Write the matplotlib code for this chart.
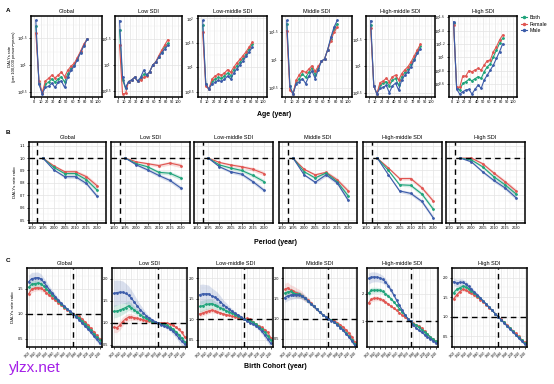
import numpy as np
import matplotlib
matplotlib.use('Agg')
import matplotlib.pyplot as plt
from matplotlib.lines import Line2D
from matplotlib.ticker import FixedLocator, NullFormatter

plt.rcParams['font.family'] = ['Liberation Sans', 'DejaVu Sans']

regions = ['Global', 'Low SDI', 'Low-middle SDI', 'Middle SDI', 'High-middle SDI', 'High SDI']
sexes = ['Both', 'Female', 'Male']
colors = {'Both': '#1fa37a', 'Female': '#e05551', 'Male': '#3b5ba9'}

# ---- A: age effect, log10 of DALYs rate per 100,000 ----
ages = [2.5, 7.5, 12.5, 17.5, 22.5, 27.5, 32.5, 37.5, 42.5, 47.5, 52.5, 57.5, 62.5, 67.5, 72.5, 77.5, 82.5]
a_both = {
    'Global':          [1.73, 0.67, 0.47, 0.64, 0.68, 0.74, 0.68, 0.74, 0.78, 0.68, 0.84, 0.94, 1.00, 1.12, 1.24, 1.37, 1.48],
    'Low SDI':         [1.68, 0.71, 0.55, 0.68, 0.71, 0.76, 0.69, 0.73, 0.82, 0.80, 0.87, 1.00, 1.06, 1.16, 1.26, 1.36, 1.42],
    'Low-middle SDI':  [1.86, 0.66, 0.55, 0.71, 0.76, 0.79, 0.77, 0.82, 0.88, 0.83, 0.95, 1.03, 1.10, 1.18, 1.27, 1.38, 1.47],
    'Middle SDI':      [1.64, 0.52, 0.39, 0.60, 0.66, 0.74, 0.68, 0.77, 0.85, 0.73, 0.85, 0.97, 1.01, 1.18, 1.37, 1.54, 1.64],
    'High-middle SDI': [1.77, 0.63, 0.48, 0.64, 0.68, 0.71, 0.63, 0.73, 0.77, 0.64, 0.80, 0.88, 0.94, 1.04, 1.14, 1.27, 1.38],
    'High SDI':        [1.52, 0.535, 0.51, 0.61, 0.635, 0.67, 0.65, 0.68, 0.71, 0.685, 0.785, 0.86, 0.90, 1.01, 1.11, 1.21, 1.285],
}
a_female = {
    'Global':          [1.60, 0.70, 0.48, 0.70, 0.75, 0.81, 0.76, 0.81, 0.87, 0.78, 0.90, 0.98, 1.03, 1.14, 1.26, 1.39, 1.48],
    'Low SDI':         [1.39, 0.44, 0.45, 0.68, 0.71, 0.76, 0.69, 0.71, 0.76, 0.79, 0.87, 1.00, 1.06, 1.18, 1.29, 1.39, 1.49],
    'Low-middle SDI':  [1.72, 0.61, 0.55, 0.76, 0.82, 0.86, 0.84, 0.88, 0.95, 0.90, 1.00, 1.09, 1.16, 1.24, 1.32, 1.42, 1.51],
    'Middle SDI':      [1.52, 0.45, 0.39, 0.63, 0.73, 0.80, 0.77, 0.83, 0.89, 0.79, 0.88, 0.97, 1.01, 1.18, 1.34, 1.49, 1.58],
    'High-middle SDI': [1.71, 0.63, 0.48, 0.69, 0.72, 0.77, 0.71, 0.80, 0.83, 0.74, 0.86, 0.93, 0.99, 1.08, 1.19, 1.30, 1.41],
    'High SDI':        [1.485, 0.55, 0.55, 0.72, 0.72, 0.80, 0.785, 0.81, 0.835, 0.81, 0.885, 0.95, 0.96, 1.085, 1.16, 1.26, 1.335],
}
a_male = {
    'Global':          [1.84, 0.64, 0.46, 0.58, 0.60, 0.66, 0.58, 0.68, 0.70, 0.58, 0.78, 0.90, 0.98, 1.10, 1.23, 1.36, 1.48],
    'Low SDI':         [1.86, 0.77, 0.56, 0.68, 0.71, 0.76, 0.69, 0.76, 0.90, 0.81, 0.87, 1.00, 1.05, 1.15, 1.24, 1.31, 1.38],
    'Low-middle SDI':  [1.96, 0.66, 0.55, 0.66, 0.69, 0.73, 0.71, 0.75, 0.82, 0.76, 0.88, 0.97, 1.05, 1.13, 1.23, 1.32, 1.41],
    'Middle SDI':      [1.70, 0.52, 0.38, 0.57, 0.60, 0.66, 0.57, 0.70, 0.80, 0.66, 0.82, 0.97, 1.01, 1.18, 1.40, 1.58, 1.70],
    'High-middle SDI': [1.85, 0.63, 0.48, 0.58, 0.60, 0.64, 0.50, 0.63, 0.68, 0.55, 0.74, 0.83, 0.89, 0.99, 1.11, 1.24, 1.33],
    'High SDI':        [1.535, 0.52, 0.45, 0.485, 0.51, 0.52, 0.45, 0.52, 0.585, 0.535, 0.66, 0.735, 0.81, 0.885, 0.985, 1.085, 1.20],
}
a_yticks = {
    'Global': [0.5, 1, 1.5], 'Low SDI': [0.5, 1, 1.5], 'Low-middle SDI': [0.5, 1, 1.5, 2],
    'Middle SDI': [0.5, 1, 1.5], 'High-middle SDI': [0.5, 1, 1.5],
    'High SDI': [0.4, 0.6, 0.8, 1, 1.2, 1.4, 1.6],
}
a_ylim = {
    'Global': (0.40, 1.92), 'Low SDI': (0.38, 1.95), 'Low-middle SDI': (0.39, 2.05),
    'Middle SDI': (0.33, 1.78), 'High-middle SDI': (0.42, 1.94), 'High SDI': (0.405, 1.62),
}

# ---- B: period effect, rate ratio ----
periods = [1995, 2000, 2005, 2010, 2015, 2020]
b_both = {
    'Global':          [1, 0.925, 0.875, 0.875, 0.825, 0.74],
    'Low SDI':         [1, 0.955, 0.93, 0.885, 0.878, 0.838],
    'Low-middle SDI':  [1, 0.945, 0.92, 0.90, 0.86, 0.81],
    'Middle SDI':      [1, 0.89, 0.84, 0.88, 0.81, 0.695],
    'High-middle SDI': [1, 0.90, 0.785, 0.78, 0.71, 0.59],
    'High SDI':        [1, 0.985, 0.93, 0.85, 0.785, 0.71],
}
b_female = {
    'Global':          [1, 0.938, 0.89, 0.89, 0.85, 0.775],
    'Low SDI':         [1, 0.97, 0.955, 0.94, 0.96, 0.94],
    'Low-middle SDI':  [1, 0.965, 0.945, 0.93, 0.91, 0.875],
    'Middle SDI':      [1, 0.91, 0.865, 0.885, 0.825, 0.735],
    'High-middle SDI': [1, 0.92, 0.835, 0.835, 0.76, 0.655],
    'High SDI':        [1, 1.0, 0.955, 0.88, 0.81, 0.735],
}
b_male = {
    'Global':          [1, 0.905, 0.85, 0.85, 0.795, 0.69],
    'Low SDI':         [1, 0.945, 0.905, 0.86, 0.82, 0.757],
    'Low-middle SDI':  [1, 0.93, 0.89, 0.87, 0.81, 0.74],
    'Middle SDI':      [1, 0.865, 0.805, 0.865, 0.80, 0.66],
    'High-middle SDI': [1, 0.865, 0.735, 0.715, 0.65, 0.52],
    'High SDI':        [1, 0.97, 0.89, 0.82, 0.76, 0.68],
}
b_halfwidth = [0, 0.008, 0.012, 0.014, 0.016, 0.018]

# ---- C: cohort effect, rate ratio ----
cohorts = list(range(1900, 2021, 5))
ref_cohort = 1975
c_both = {
    'Global':          [1.53, 1.59, 1.60, 1.61, 1.60, 1.55, 1.49, 1.43, 1.37, 1.31, 1.25, 1.19, 1.14, 1.09, 1.04, 1.00, 0.96, 0.92, 0.86, 0.80, 0.74, 0.67, 0.60, 0.53, 0.47],
    'Low SDI':         [1.26, 1.27, 1.29, 1.32, 1.35, 1.39, 1.35, 1.29, 1.24, 1.19, 1.14, 1.10, 1.06, 1.03, 1.01, 1.00, 0.98, 0.97, 0.94, 0.90, 0.86, 0.80, 0.73, 0.65, 0.57],
    'Low-middle SDI':  [1.31, 1.33, 1.36, 1.37, 1.38, 1.35, 1.31, 1.28, 1.24, 1.20, 1.17, 1.14, 1.11, 1.07, 1.04, 1.00, 0.98, 0.96, 0.92, 0.88, 0.82, 0.75, 0.68, 0.60, 0.50],
    'Middle SDI':      [1.63, 1.66, 1.67, 1.63, 1.61, 1.60, 1.56, 1.50, 1.44, 1.37, 1.30, 1.23, 1.16, 1.10, 1.05, 1.00, 0.96, 0.92, 0.86, 0.80, 0.73, 0.65, 0.57, 0.48, 0.38],
    'High-middle SDI': [2.03, 2.12, 2.13, 2.13, 2.12, 2.08, 2.00, 1.91, 1.82, 1.70, 1.58, 1.46, 1.34, 1.22, 1.10, 1.00, 0.92, 0.85, 0.78, 0.70, 0.62, 0.53, 0.44, 0.35, 0.27],
    'High SDI':        [1.62, 1.70, 1.74, 1.78, 1.76, 1.72, 1.66, 1.60, 1.54, 1.47, 1.40, 1.32, 1.24, 1.16, 1.08, 1.00, 0.92, 0.85, 0.77, 0.70, 0.62, 0.54, 0.47, 0.39, 0.32],
}
c_female = {
    'Global':          [1.40, 1.49, 1.51, 1.52, 1.51, 1.47, 1.42, 1.37, 1.32, 1.27, 1.22, 1.17, 1.12, 1.08, 1.04, 1.00, 0.97, 0.95, 0.90, 0.84, 0.78, 0.71, 0.64, 0.57, 0.50],
    'Low SDI':         [0.90, 0.89, 0.94, 1.03, 1.09, 1.13, 1.13, 1.12, 1.10, 1.08, 1.07, 1.05, 1.04, 1.02, 1.01, 1.00, 1.00, 1.00, 0.99, 0.98, 0.95, 0.90, 0.85, 0.79, 0.68],
    'Low-middle SDI':  [1.13, 1.15, 1.18, 1.20, 1.22, 1.20, 1.18, 1.15, 1.13, 1.11, 1.09, 1.07, 1.06, 1.04, 1.03, 1.00, 1.02, 1.00, 0.94, 0.88, 0.84, 0.80, 0.74, 0.68, 0.55],
    'Middle SDI':      [1.72, 1.76, 1.70, 1.68, 1.64, 1.62, 1.57, 1.50, 1.45, 1.38, 1.30, 1.23, 1.16, 1.10, 1.05, 1.00, 0.97, 0.95, 0.90, 0.85, 0.79, 0.72, 0.64, 0.55, 0.42],
    'High-middle SDI': [1.67, 1.80, 1.83, 1.83, 1.82, 1.76, 1.70, 1.62, 1.55, 1.47, 1.40, 1.31, 1.22, 1.14, 1.07, 1.00, 0.93, 0.87, 0.83, 0.75, 0.64, 0.53, 0.44, 0.35, 0.29],
    'High SDI':        [1.46, 1.56, 1.64, 1.70, 1.68, 1.64, 1.60, 1.55, 1.50, 1.44, 1.38, 1.31, 1.23, 1.16, 1.08, 1.00, 0.93, 0.86, 0.79, 0.72, 0.64, 0.57, 0.49, 0.41, 0.34],
}
c_male = {
    'Global':          [1.64, 1.70, 1.71, 1.72, 1.70, 1.63, 1.56, 1.48, 1.41, 1.34, 1.27, 1.21, 1.15, 1.10, 1.05, 1.00, 0.94, 0.88, 0.82, 0.76, 0.70, 0.63, 0.56, 0.49, 0.42],
    'Low SDI':         [1.67, 1.69, 1.70, 1.70, 1.67, 1.63, 1.56, 1.47, 1.38, 1.30, 1.23, 1.16, 1.11, 1.07, 1.03, 1.00, 0.96, 0.93, 0.90, 0.87, 0.81, 0.74, 0.66, 0.58, 0.52],
    'Low-middle SDI':  [1.60, 1.62, 1.62, 1.62, 1.57, 1.54, 1.50, 1.43, 1.35, 1.30, 1.24, 1.19, 1.14, 1.10, 1.06, 1.00, 0.95, 0.91, 0.88, 0.84, 0.78, 0.70, 0.61, 0.51, 0.41],
    'Middle SDI':      [1.52, 1.56, 1.58, 1.59, 1.59, 1.58, 1.55, 1.50, 1.44, 1.37, 1.30, 1.23, 1.16, 1.10, 1.05, 1.00, 0.95, 0.91, 0.85, 0.78, 0.71, 0.63, 0.55, 0.45, 0.34],
    'High-middle SDI': [2.55, 2.60, 2.61, 2.60, 2.57, 2.52, 2.43, 2.29, 2.13, 1.95, 1.76, 1.58, 1.40, 1.24, 1.10, 1.00, 0.87, 0.75, 0.67, 0.60, 0.52, 0.44, 0.37, 0.30, 0.22],
    'High SDI':        [1.90, 1.86, 1.88, 1.88, 1.84, 1.78, 1.70, 1.63, 1.56, 1.48, 1.40, 1.32, 1.24, 1.16, 1.08, 1.00, 0.92, 0.84, 0.76, 0.68, 0.61, 0.53, 0.45, 0.37, 0.30],
}
# ribbon half-width shape along cohorts, and its size at the oldest cohort per region (Both, Female, Male)
c_band_shape = [1.0, 0.95, 0.9, 0.85, 0.78, 0.7, 0.62, 0.54, 0.46, 0.38, 0.3, 0.23, 0.16, 0.1, 0.05, 0.0,
                0.05, 0.1, 0.14, 0.18, 0.22, 0.26, 0.3, 0.34, 0.38]
c_band_size = {
    'Global': (0.08, 0.07, 0.13), 'Low SDI': (0.15, 0.12, 0.30), 'Low-middle SDI': (0.14, 0.08, 0.25),
    'Middle SDI': (0.10, 0.15, 0.12), 'High-middle SDI': (0.12, 0.10, 0.20), 'High SDI': (0.07, 0.06, 0.10),
}
c_yticks = {
    'Global': [0.5, 1.0, 1.5], 'Low SDI': [0.5, 1.0, 1.5, 2.0], 'Low-middle SDI': [0.5, 1.0, 1.5, 2.0],
    'Middle SDI': [0.5, 1.0, 1.5, 2.0], 'High-middle SDI': [1, 2], 'High SDI': [0.5, 1.0, 1.5, 2.0],
}
c_ylim = {
    'Global': (0.34, 1.91), 'Low SDI': (0.45, 2.03), 'Low-middle SDI': (0.32, 2.05),
    'Middle SDI': (0.30, 2.02), 'High-middle SDI': (0.07, 2.93), 'High SDI': (0.22, 2.14),
}

W, H = 554, 384
fig = plt.figure(figsize=(W / 100, H / 100), dpi=100)


def px_axes(l, r, t, b):
    return fig.add_axes([l / W, 1 - b / H, (r - l) / W, (b - t) / H])


def style(ax, title):
    ax.set_facecolor('white')
    for s in ax.spines.values():
        s.set_linewidth(1.1)
        s.set_color('black')
    ax.grid(which='major', color='#e3e3e3', lw=0.5)
    ax.grid(which='minor', color='#efefef', lw=0.3)
    ax.set_axisbelow(True)
    ax.tick_params(which='major', length=1.5, width=0.5, labelsize=2.8, pad=1)
    ax.tick_params(which='minor', length=0)
    ax.set_title(title, fontsize=4, pad=2)


pt = dict(marker='o', ms=1.0, lw=0.8)
sex_data_a = {'Both': a_both, 'Female': a_female, 'Male': a_male}
sex_data_b = {'Both': b_both, 'Female': b_female, 'Male': b_male}
sex_data_c = {'Both': c_both, 'Female': c_female, 'Male': c_male}

# Row A
a_pos = [(31, 102), (115, 182), (198, 267), (282, 352), (366, 435), (449, 517)]
for (l, r), reg in zip(a_pos, regions):
    ax = px_axes(l, r, 16, 97)
    style(ax, reg)
    for sex in ['Both', 'Female', 'Male']:
        ax.plot(ages, 10 ** np.array(sex_data_a[sex][reg]), color=colors[sex], **pt)
    ax.set_yscale('log')
    lo, hi = a_ylim[reg]
    ax.set_ylim(10 ** lo, 10 ** hi)
    t = np.array(a_yticks[reg], dtype=float)
    ax.yaxis.set_major_locator(FixedLocator(10 ** t))
    ax.set_yticklabels([r'$10^{%g}$' % v for v in t])
    step = t[1] - t[0]
    ax.yaxis.set_minor_locator(FixedLocator(10 ** np.arange(t[0] - step / 2, hi, step)))
    ax.yaxis.set_minor_formatter(NullFormatter())
    ax.set_xlim(-5, 106)
    ax.set_xticks(range(0, 101, 10))
    ax.set_xticks(range(5, 101, 10), minor=True)
    if reg == 'Global':
        ax.set_ylabel('DALYs rate\n(per 100,000 person\u2212years)', fontsize=3.0, linespacing=1.0)
        ax.yaxis.set_label_coords(-0.21, 0.5)

# Row B
b_pos = [(29, 106), (111, 190), (194, 273), (279, 357), (363, 442), (446, 525)]
for (l, r), reg in zip(b_pos, regions):
    ax = px_axes(l, r, 142, 223)
    style(ax, reg)
    for sex in ['Female', 'Both', 'Male']:
        v = np.array(sex_data_b[sex][reg])
        hw = np.array(b_halfwidth)
        ax.fill_between(periods, v - hw, v + hw, color=colors[sex], alpha=0.2, lw=0)
        ax.plot(periods, v, color=colors[sex], **pt)
    ax.axhline(1.0, color='black', ls=(0, (4, 3)), lw=1.0)
    ax.axvline(1992.5, color='black', ls=(0, (4, 3)), lw=1.0)
    ax.set_xlim(1988.6, 2024)
    ax.set_ylim(0.476, 1.13)
    ax.set_xticks(range(1990, 2021, 5))
    ax.set_xticks(np.arange(1992.5, 2021, 5), minor=True)
    ax.set_yticks(np.arange(0.5, 1.11, 0.1))
    ax.set_yticks(np.arange(0.55, 1.11, 0.1), minor=True)
    if reg == 'Global':
        ax.set_yticklabels(['%.1f' % v for v in np.arange(0.5, 1.11, 0.1)])
        ax.set_ylabel('DALYs rate ratio', fontsize=3.2, labelpad=2)
    else:
        ax.tick_params(axis='y', labelleft=False, length=0)

# Row C
c_pos = [(27, 102), (112, 187), (198, 273), (283, 357), (367, 438), (452, 527)]
shape = np.array(c_band_shape)
for (l, r), reg in zip(c_pos, regions):
    ax = px_axes(l, r, 268, 347)
    style(ax, reg)
    for k, sex in zip([1, 0, 2], ['Female', 'Both', 'Male']):
        v = np.array(sex_data_c[sex][reg])
        hw = shape * c_band_size[reg][k]
        ax.fill_between(cohorts, v - hw, v + hw, color=colors[sex], alpha=0.18, lw=0)
        ax.plot(cohorts, v, color=colors[sex], **pt)
    ax.axhline(1.0, color='black', ls=(0, (4, 3)), lw=1.0)
    ax.axvline(ref_cohort, color='black', ls=(0, (4, 3)), lw=1.0)
    ax.set_xlim(1897, 2024)
    ax.set_ylim(*c_ylim[reg])
    ax.set_xticks(range(1900, 2021, 10))
    ax.set_xticklabels([str(c) for c in range(1900, 2021, 10)], rotation=45, ha='right',
                       rotation_mode='anchor', fontsize=2.3)
    ax.set_xticks(range(1905, 2021, 10), minor=True)
    yt = c_yticks[reg]
    ax.set_yticks(yt)
    ax.set_yticklabels([('%g' % v) if reg == 'High-middle SDI' else '%.1f' % v for v in yt])
    ax.set_yticks([v + (yt[1] - yt[0]) / 2 for v in yt], minor=True)
    if reg == 'Global':
        ax.set_ylabel('DALYs rate ratio', fontsize=3.2, labelpad=2)

# axis titles, panel letters, watermark
fig.text(274 / W, 1 - 115 / H, 'Age (year)', fontsize=5, fontweight='bold', ha='center', va='center')
fig.text(275 / W, 1 - 243 / H, 'Period (year)', fontsize=5, fontweight='bold', ha='center', va='center')
fig.text(275 / W, 1 - 366 / H, 'Birth Cohort (year)', fontsize=5, fontweight='bold', ha='center', va='center')
for lab, y in [('A', 10), ('B', 132), ('C', 260)]:
    fig.text(8 / W, 1 - y / H, lab, fontsize=4.5, fontweight='bold', ha='center', va='center')
fig.text(9 / W, 1 - 368 / H, 'ylzx.net', fontsize=11, color='#a41ee8', ha='left', va='center')

handles = [Line2D([], [], color=colors[s], marker='o', ms=1.5, lw=0.8) for s in sexes]
fig.legend(handles, sexes, loc='upper left', bbox_to_anchor=(519 / W, 1 - 13 / H), frameon=False,
           fontsize=3.8, handlelength=1.2, handletextpad=0.4, labelspacing=0.3, borderaxespad=0)

fig.savefig('out.png', dpi=100)
